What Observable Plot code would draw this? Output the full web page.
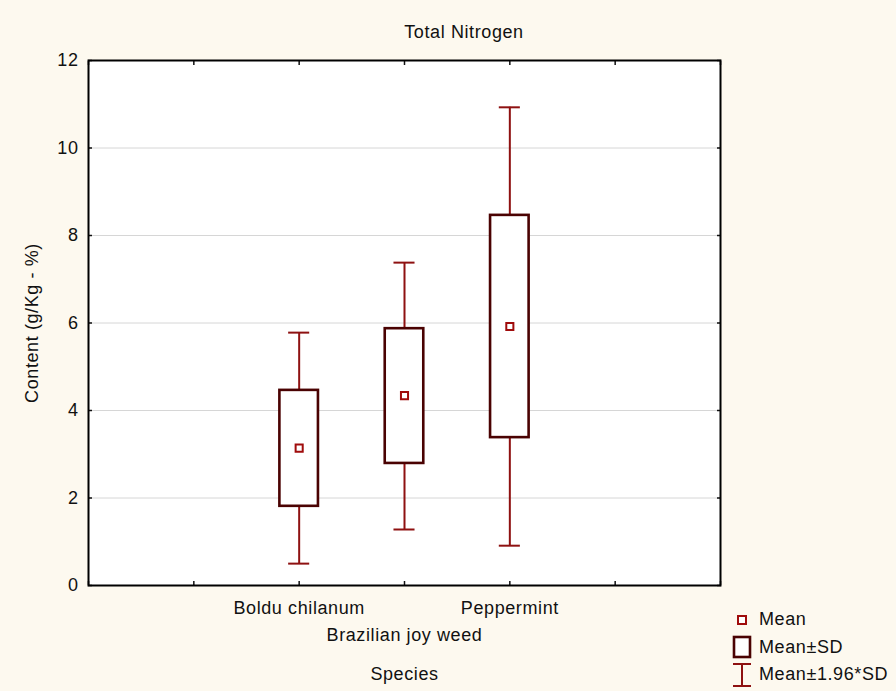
<!DOCTYPE html>
<html>
<head>
<meta charset="utf-8">
<script src="https://cdn.jsdelivr.net/npm/d3@7"></script>
<script src="https://cdn.jsdelivr.net/npm/@observablehq/plot@0.6"></script>
<style>
  body { margin: 0; background: #fdf9ef; }
  #chart { position: relative; width: 896px; height: 691px; background: #fdf9ef;
           font-family: "Liberation Sans", Arial, sans-serif; color: #111; letter-spacing: 0.6px; }
  #title { position: absolute; left: 364px; width: 200px; top: 21px; text-align: center; font-size: 18px; line-height: 22px; }
  #legend { position: absolute; left: 730px; top: 606px; font-size: 18px; }
  .row { display: flex; align-items: center; height: 27.5px; }
  .sw { width: 24px; height: 26px; margin-right: 5px; }
</style>
</head>
<body>
<div id="chart">
  <div id="title">Total Nitrogen</div>
  <div id="legend"></div>
</div>
<script>
// ---- data ----
const species = ["Boldu chilanum", "Brazilian joy weed", "Peppermint"];
const means   = [3.14, 4.34, 5.92];
const sdLow   = [1.81, 2.79, 3.38];
const sdHigh  = [4.46, 5.87, 8.46];
const ciLow   = [0.50, 1.28, 0.91];
const ciHigh  = [5.78, 7.38, 10.93];
const yTicks  = [0, 2, 4, 6, 8, 10, 12];
const gridTicks = [2, 4, 6, 8, 10];
const xTicks  = [0, 1, 2, 3, 4, 5, 6];
const legendLabels = ["Mean", "Mean±SD", "Mean±1.96*SD"];

const xPos = species.map((_, i) => i + 2);
const rows = species.map((s, i) => ({
  species: s, pos: xPos[i], mean: means[i],
  sdLo: sdLow[i], sdHi: sdHigh[i], lo: ciLow[i], hi: ciHigh[i]
}));

const whiskerColor = "#8e1111";
const boxColor = "#4a0202";
const meanColor = "#a00c0c";
const font = '"Liberation Sans", Arial, sans-serif';

const plot = Plot.plot({
  width: 896, height: 691,
  marginLeft: 88, marginRight: 176, marginTop: 60, marginBottom: 106,
  style: { background: "transparent", fontSize: "18px", fontFamily: font, overflow: "visible", color: "#111", letterSpacing: "0.6px" },
  x: { domain: [0, 6] },
  y: { domain: [0, 12] },
  marks: [
    Plot.frame({ fill: "white", stroke: null }),
    Plot.gridY(gridTicks, { stroke: "#d6d6d6", strokeOpacity: 1, strokeWidth: 1 }),
    Plot.axisY(yTicks, { anchor: "left", tickSize: 0, tickPadding: 10, label: null }),
    Plot.axisY(yTicks, { anchor: "left", tickSize: -4, fill: "none", label: null, strokeWidth: 1.5 }),
    Plot.axisY(yTicks, { anchor: "right", tickSize: -4, fill: "none", label: null, strokeWidth: 1.5 }),
    Plot.axisX(xTicks, { anchor: "top", tickSize: -4, fill: "none", label: null, strokeWidth: 1.5 }),
    Plot.axisX(xTicks, { anchor: "bottom", tickSize: -4, fill: "none", label: null, strokeWidth: 1.5 }),
    Plot.axisX(xPos, {
      anchor: "bottom", tickSize: 0, tickPadding: 9, label: null, lineHeight: 1.5,
      tickFormat: d => { const i = xPos.indexOf(d); return i === 1 ? "\n" + species[i] : species[i]; }
    }),
    Plot.text(["Content (g/Kg - %)"], { frameAnchor: "left", rotate: -90, dx: -56, textAnchor: "middle", lineAnchor: "middle" }),
    Plot.text(["Species"], { frameAnchor: "bottom", dy: 89, lineAnchor: "middle" }),
    // whiskers (Mean ± 1.96*SD)
    Plot.ruleX(rows, { x: "pos", y1: "lo", y2: "hi", stroke: whiskerColor, strokeWidth: 2 }),
    Plot.ruleY(rows, { y: "hi", x1: d => d.pos - 0.1, x2: d => d.pos + 0.1, stroke: whiskerColor, strokeWidth: 2 }),
    Plot.ruleY(rows, { y: "lo", x1: d => d.pos - 0.1, x2: d => d.pos + 0.1, stroke: whiskerColor, strokeWidth: 2 }),
    // boxes (Mean ± SD)
    Plot.rect(rows, { x1: d => d.pos - 0.183, x2: d => d.pos + 0.183, y1: "sdLo", y2: "sdHi",
                      fill: "white", stroke: boxColor, strokeWidth: 2.6 }),
    // mean markers
    Plot.dot(rows, { x: "pos", y: "mean", symbol: "square", r: 4, fill: "white", stroke: meanColor, strokeWidth: 2 }),
    Plot.frame({ stroke: "black", strokeWidth: 2 })
  ]
});
plot.style.position = "absolute";
plot.style.left = "0";
plot.style.top = "0";
document.getElementById("chart").prepend(plot);

// ---- legend ----
const swatches = [
  `<svg class="sw" viewBox="0 0 24 26"><rect x="8" y="9" width="8" height="8" fill="white" stroke="${meanColor}" stroke-width="2"/></svg>`,
  `<svg class="sw" viewBox="0 0 24 26"><rect x="4" y="3" width="16" height="20" fill="white" stroke="${boxColor}" stroke-width="2.6"/></svg>`,
  `<svg class="sw" viewBox="0 0 24 26"><path d="M3,2H21M12,2V24M3,24H21" fill="none" stroke="${whiskerColor}" stroke-width="2"/></svg>`
];
const legend = document.getElementById("legend");
legendLabels.forEach((t, i) => {
  const r = document.createElement("div");
  r.className = "row";
  r.innerHTML = swatches[i] + `<span>${t}</span>`;
  legend.appendChild(r);
});
</script>
</body>
</html>
